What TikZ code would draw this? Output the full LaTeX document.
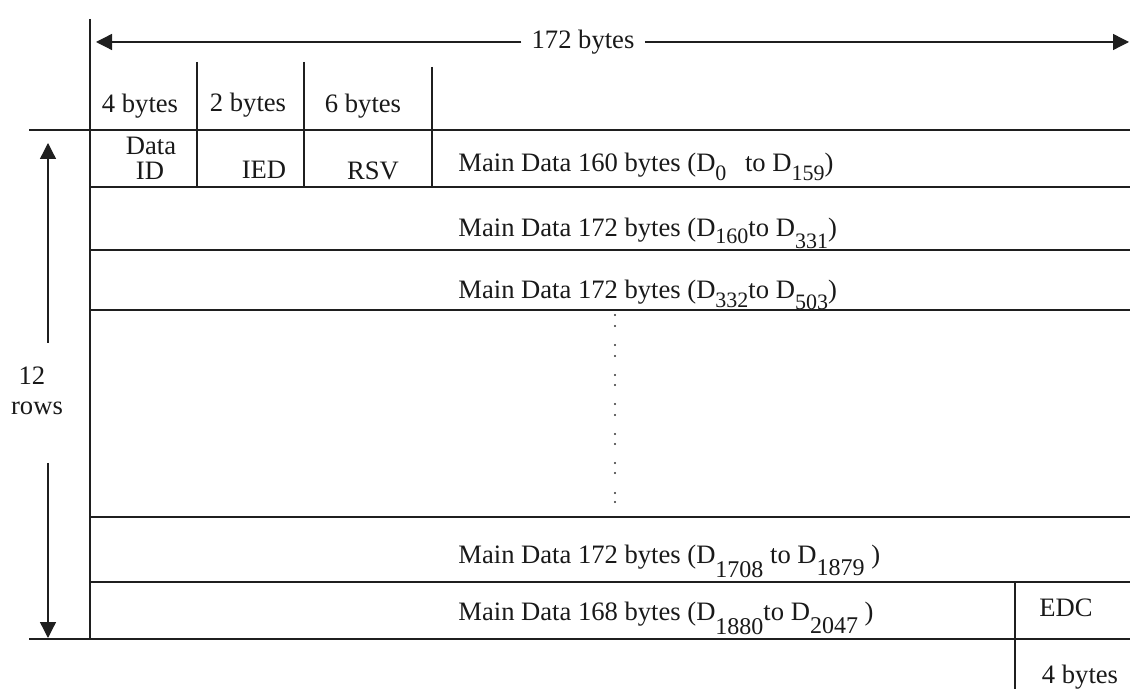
\documentclass[tikz,border=0pt]{standalone}
\usepackage{fontspec}
\setmainfont{Liberation Serif}
\usetikzlibrary{arrows.meta}
\newcommand\sbs[2][-4pt]{\raisebox{#1}{\fontsize{11}{11}\selectfont #2}}
\newcommand\sbl[2][-7pt]{\raisebox{#1}{\fontsize{12}{12}\selectfont #2}}
\begin{document}
\begin{tikzpicture}[x=0.5pt,y=-0.5pt,
  every node/.style={font=\fontsize{13.3}{15}\selectfont, inner sep=0pt, text=black!90},
  border/.style={line width=1.1pt, black!88},
  rowline/.style={line width=0.9pt, black!88},
  arr/.style={line width=0.65pt, black!88, -{Triangle[length=8pt,width=8pt]}},
  lbl/.style={anchor=base},
  maintext/.style={anchor=base west},
  dot/.style={fill=black!80},
]
\useasboundingbox (0,0) rectangle (1130,689);

% table frame
\draw[border] (90,19) -- (90,639);
\draw[border] (29,130) -- (1130,130);
\draw[border] (29,639) -- (1130,639);
\foreach \yy in {187,250,310,517,582}
  \draw[rowline] (90,\yy) -- (1130,\yy);
\draw[rowline] (197,62) -- (197,187);
\draw[rowline] (304,62) -- (304,187);
\draw[rowline] (432,67) -- (432,187);
\draw[rowline] (1015,582) -- (1015,689);

% top dimension arrow
\node[inner xsep=5pt] (w) at (583,42) {172 bytes};
\coordinate (tl) at (96,42);
\coordinate (tr) at (1129,42);
\draw[arr] (w) -- (tl);
\draw[arr] (w) -- (tr);

% header labels
\node[lbl] (h4) at (140,113) {4 bytes};
\node[lbl] (h2) at (248,112) {2 bytes};
\node[lbl] (h6) at (363,113) {6 bytes};

% first row small fields
\node[lbl] (data) at (151,155) {Data};
\node[lbl] (id) at (150,180) {ID};
\node[lbl] (ied) at (264,179) {IED};
\node[lbl] (rsv) at (373,180) {RSV};

% main data rows
\node[maintext] (r1) at (458,172) {Main Data 160 bytes (D\sbs[-4.5pt]{0}\hspace{0.45em} to D\sbs[-4.5pt]{159})};
\node[maintext] (r2) at (458,237) {Main Data 172 bytes (D\sbs[-3.5pt]{160}to D\sbs[-6pt]{331})};
\node[maintext] (r3) at (458,299) {Main Data 172 bytes (D\sbs[-4.5pt]{332}to D\sbs[-5.5pt]{503})};
\node[maintext] (r4) at (458,563) {Main Data 172 bytes (D\sbl[-7pt]{1708} to D\sbl[-6pt]{1879} )};
\node[maintext] (r5) at (458,620) {Main Data 168 bytes (D\sbl[-7pt]{1880}to D\sbl[-6.5pt]{2047} )};

% vertical dots
\foreach \yy in {315,326,345,356,375,385,404,415,434,444,463,473,493,502}
  \fill[dot] (615,\yy) circle (0.55pt);

% EDC
\node[lbl] (edc) at (1066,616) {EDC};
\node[lbl] (b4) at (1080,683) {4 bytes};

% left dimension arrow
\node[lbl] (n12) at (32,385) {12};
\node[lbl] (nrows) at (37,415) {rows};
\coordinate (a1) at (48,343);
\coordinate (a2) at (48,143);
\coordinate (a3) at (48,463);
\coordinate (a4) at (48,638);
\draw[arr] (a1) -- (a2);
\draw[arr] (a3) -- (a4);
\end{tikzpicture}
\end{document}
